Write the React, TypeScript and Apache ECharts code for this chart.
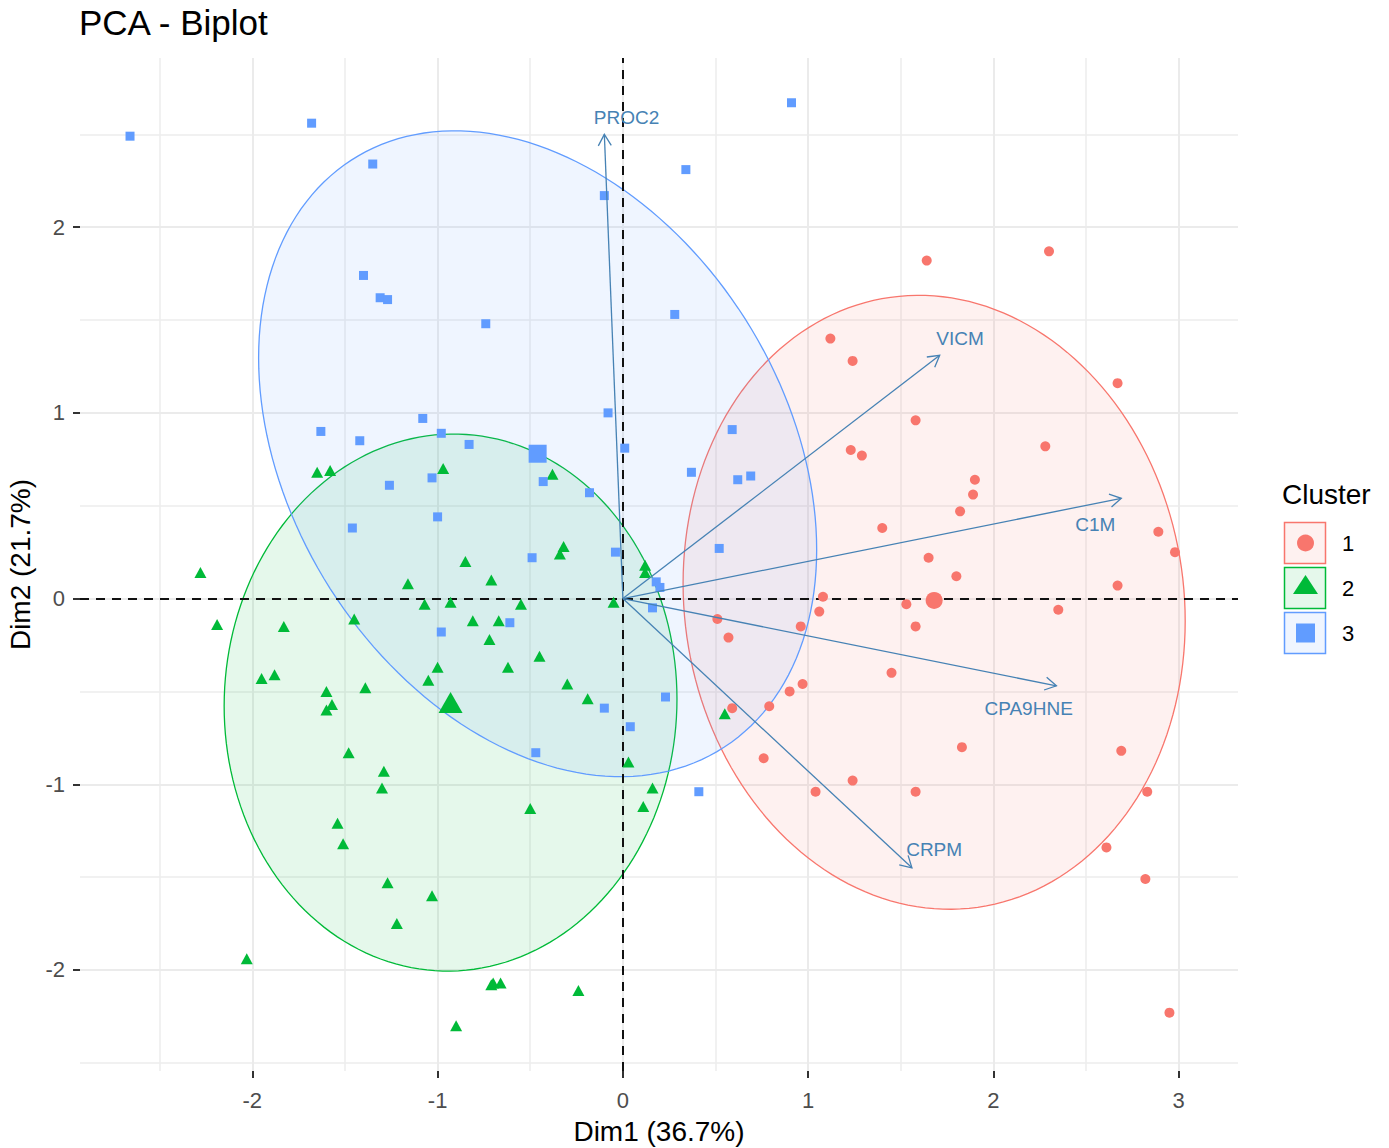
import React, { useEffect, useRef } from 'react';
import * as echarts from 'echarts';

const FONT = '"Liberation Sans", Arial, sans-serif';

const clusterNames = ['1', '2', '3'];
const clusterColors = ['#F8766D', '#00BA38', '#619CFF'];
const clusterFills = ['rgba(248,118,109,0.1)', 'rgba(0,186,56,0.1)', 'rgba(97,156,255,0.1)'];

// Cluster 1 (red circles): [Dim1, Dim2]
const cluster1Points = [
  [2.30, 1.87], [1.64, 1.82], [1.12, 1.40], [1.24, 1.28], [2.67, 1.16], [1.58, 0.96], [2.28, 0.82],
  [1.23, 0.80], [1.29, 0.77], [1.90, 0.64], [1.89, 0.56], [1.82, 0.47], [1.40, 0.38], [2.89, 0.36],
  [2.98, 0.25], [1.65, 0.22], [1.80, 0.12], [2.67, 0.07], [1.08, 0.01], [1.53, -0.03], [2.35, -0.06],
  [1.06, -0.07], [0.51, -0.11], [0.96, -0.15], [1.58, -0.15], [0.57, -0.21], [1.45, -0.40], [0.97, -0.46],
  [0.90, -0.50], [0.59, -0.59], [0.79, -0.58], [1.83, -0.80], [0.76, -0.86], [2.69, -0.82], [1.24, -0.98],
  [1.04, -1.04], [1.58, -1.04], [2.83, -1.04], [2.61, -1.34], [2.82, -1.51], [2.95, -2.23],
];

// Cluster 2 (green triangles)
const cluster2Points = [
  [-2.28, 0.14], [-2.19, -0.14], [-1.83, -0.15], [-1.95, -0.43], [-1.88, -0.41], [-1.65, 0.68], [-1.58, 0.69],
  [-0.97, 0.70], [-0.38, 0.67], [-0.32, 0.28], [-0.34, 0.24], [0.12, 0.18], [0.12, 0.14], [-0.85, 0.20],
  [-0.71, 0.10], [-1.16, 0.08], [-1.07, -0.03], [-0.93, -0.02], [-0.55, -0.03], [-0.05, -0.02], [-0.81, -0.12],
  [-0.67, -0.12], [-0.72, -0.22], [-1.45, -0.11], [-0.45, -0.31], [-1.00, -0.37], [-0.62, -0.37], [-1.05, -0.44],
  [-1.60, -0.50], [-1.39, -0.48], [-1.57, -0.57], [-1.60, -0.60], [-0.30, -0.46], [-0.19, -0.54], [-1.48, -0.83],
  [-1.29, -0.93], [-1.30, -1.02], [0.03, -0.88], [0.16, -1.02], [0.11, -1.12], [-0.50, -1.13], [-1.54, -1.21],
  [-1.51, -1.32], [-1.27, -1.53], [-1.03, -1.60], [-1.22, -1.75], [-0.70, -2.07], [-0.66, -2.07], [-0.71, -2.08],
  [-0.24, -2.11], [-0.90, -2.30], [-2.03, -1.94], [0.55, -0.62],
];

// Cluster 3 (blue squares)
const cluster3Points = [
  [-2.66, 2.49], [-1.68, 2.56], [0.91, 2.67], [-1.35, 2.34], [0.34, 2.31], [-0.10, 2.17], [-1.40, 1.74],
  [-1.31, 1.62], [-1.27, 1.61], [-0.74, 1.48], [0.28, 1.53], [-0.08, 1.00], [-1.08, 0.97], [-1.63, 0.90],
  [-1.42, 0.85], [-0.98, 0.89], [-0.83, 0.83], [0.01, 0.81], [0.59, 0.91], [-0.43, 0.63], [0.37, 0.68],
  [0.62, 0.64], [0.69, 0.66], [-1.26, 0.61], [-1.03, 0.65], [-0.18, 0.57], [-1.46, 0.38], [-1.00, 0.44],
  [0.52, 0.27], [-0.04, 0.25], [-0.49, 0.22], [0.18, 0.09], [0.20, 0.06], [0.16, -0.05], [-0.61, -0.13],
  [-0.98, -0.18], [-0.10, -0.59], [0.23, -0.53], [0.04, -0.69], [-0.47, -0.83], [0.41, -1.04],
];

// Cluster means (large markers)
const centroids = [[1.68, -0.01], [-0.93, -0.56], [-0.46, 0.78]];

// Concentration ellipses: [centerX, centerY, halfWidthX, halfHeightY, correlation]
const ellipseParams = [
  [1.68, -0.02, 1.355, 1.653, -0.061],
  [-0.93, -0.56, 1.222, 1.446, 0.013],
  [-0.46, 0.78, 1.506, 1.739, -0.297],
];

// Variable arrows
const varNames = ['PROC2', 'VICM', 'C1M', 'CPA9HNE', 'CRPM'];
const varX = [-0.10, 1.71, 2.69, 2.34, 1.56];
const varY = [2.50, 1.31, 0.54, -0.47, -1.45];
const varLabelX = [0.02, 1.82, 2.55, 2.19, 1.68];
const varLabelY = [2.59, 1.40, 0.40, -0.59, -1.35];

const xTicks = [-2, -1, 0, 1, 2, 3];
const yTicks = [-2, -1, 0, 1, 2];
const xMinor = [-2.5, -1.5, -0.5, 0.5, 1.5, 2.5];
const yMinor = [-2.5, -1.5, -0.5, 0.5, 1.5, 2.5];

const X_MIN = -2.93, X_MAX = 3.32, Y_MIN = -2.544, Y_MAX = 2.911;

function buildOption() {
  const gridLines: any[] = [];
  xMinor.forEach((v) => gridLines.push({ xAxis: v, lineStyle: { color: '#EDEDED', width: 1.5, type: 'solid' } }));
  yMinor.forEach((v) => gridLines.push({ yAxis: v, lineStyle: { color: '#EDEDED', width: 1.5, type: 'solid' } }));
  xTicks.forEach((v) => gridLines.push({ xAxis: v, lineStyle: { color: '#EBEBEB', width: 2, type: 'solid' } }));
  yTicks.forEach((v) => gridLines.push({ yAxis: v, lineStyle: { color: '#EBEBEB', width: 2, type: 'solid' } }));

  const symbols = ['circle', 'triangle', 'rect'];
  const pointSizes: any[] = [10, [12, 11], 9];
  const centroidSizes: any[] = [17, [24, 21], 18];
  const pointSets = [cluster1Points, cluster2Points, cluster3Points];

  const series: any[] = [
    {
      type: 'scatter', name: 'grid', data: [[0, 0]], symbolSize: 0, silent: true, z: 0,
      itemStyle: { opacity: 0 },
      markLine: { silent: true, z: 0, symbol: 'none', label: { show: false }, animation: false, data: gridLines },
    },
    {
      type: 'custom', name: 'ellipses', z: 1, silent: true, clip: false,
      data: ellipseParams,
      encode: { x: 0, y: 1 },
      renderItem: (params: any, api: any) => {
        const i = params.dataIndex;
        const cx = api.value(0), cy = api.value(1), ex = api.value(2), ey = api.value(3), r = api.value(4);
        const s = Math.sqrt(1 - r * r);
        const pts: number[][] = [];
        for (let k = 0; k < 180; k++) {
          const t = (k / 180) * Math.PI * 2;
          pts.push(api.coord([cx + ex * Math.cos(t), cy + ey * (r * Math.cos(t) + s * Math.sin(t))]));
        }
        return {
          type: 'polygon',
          shape: { points: pts },
          style: { fill: clusterFills[i], stroke: clusterColors[i], lineWidth: 1.3 },
        };
      },
    },
    {
      type: 'scatter', name: 'axes0', data: [[0, 0]], symbolSize: 0, silent: true, z: 2,
      itemStyle: { opacity: 0 },
      markLine: {
        silent: true, z: 2, symbol: 'none', label: { show: false }, animation: false,
        lineStyle: { color: '#111', width: 2, type: [9, 7] },
        data: [{ xAxis: 0 }, { yAxis: 0 }],
      },
    },
  ];

  pointSets.forEach((pts, i) => {
    series.push({
      type: 'scatter', name: clusterNames[i], data: pts, symbol: symbols[i], symbolSize: pointSizes[i],
      itemStyle: { color: clusterColors[i], opacity: 1 }, z: 3, silent: true,
    });
    series.push({
      type: 'scatter', name: clusterNames[i] + 'c', data: [centroids[i]], symbol: symbols[i],
      symbolSize: centroidSizes[i], itemStyle: { color: clusterColors[i], opacity: 1 }, z: 3, silent: true,
    });
  });

  series.push({
    type: 'custom', name: 'vars', z: 4, silent: true, clip: false,
    data: varNames.map((_, i) => [varX[i], varY[i], varLabelX[i], varLabelY[i]]),
    encode: { x: 0, y: 1 },
    renderItem: (params: any, api: any) => {
      const o = api.coord([0, 0]);
      const t = api.coord([api.value(0), api.value(1)]);
      const l = api.coord([api.value(2), api.value(3)]);
      const ang = Math.atan2(t[1] - o[1], t[0] - o[0]);
      const len = 13, a = Math.PI / 6;
      const p1 = [t[0] - len * Math.cos(ang - a), t[1] - len * Math.sin(ang - a)];
      const p2 = [t[0] - len * Math.cos(ang + a), t[1] - len * Math.sin(ang + a)];
      return {
        type: 'group',
        children: [
          { type: 'line', shape: { x1: o[0], y1: o[1], x2: t[0], y2: t[1] }, style: { stroke: '#4682B4', lineWidth: 1.3 } },
          { type: 'polyline', shape: { points: [p1, t, p2] }, style: { stroke: '#4682B4', lineWidth: 1.3, fill: null } },
          {
            type: 'text', x: l[0], y: l[1],
            style: { text: varNames[params.dataIndex], fill: '#4682B4', fontSize: 19, fontFamily: FONT, align: 'center', verticalAlign: 'middle' },
          },
        ],
      };
    },
  });

  const legendGraphics: any[] = [
    { type: 'text', x: 1282, y: 494, z: 100, style: { text: 'Cluster', fontSize: 28, fontFamily: FONT, fill: '#000', align: 'left', verticalAlign: 'middle' } },
  ];
  const boxTops = [522.5, 567.5, 612.5];
  boxTops.forEach((y, i) => {
    legendGraphics.push({
      type: 'rect', z: 100, shape: { x: 1284.5, y, width: 41, height: 41 },
      style: { fill: clusterFills[i], stroke: clusterColors[i], lineWidth: 1.5 },
    });
    legendGraphics.push({
      type: 'text', x: 1342, y: y + 21, z: 100,
      style: { text: clusterNames[i], fontSize: 22, fontFamily: FONT, fill: '#000', align: 'left', verticalAlign: 'middle' },
    });
  });
  legendGraphics.push({ type: 'circle', z: 101, shape: { cx: 1305.5, cy: 543, r: 8.5 }, style: { fill: clusterColors[0] } });
  legendGraphics.push({ type: 'polygon', z: 101, shape: { points: [[1293, 594], [1318, 594], [1305.5, 575]] }, style: { fill: clusterColors[1] } });
  legendGraphics.push({ type: 'rect', z: 101, shape: { x: 1296, y: 623.5, width: 19, height: 19 }, style: { fill: clusterColors[2] } });

  return {
    animation: false,
    backgroundColor: '#FFFFFF',
    title: {
      text: 'PCA - Biplot', left: 79, top: 5, padding: 0,
      textStyle: { fontSize: 35, fontWeight: 'normal', fontFamily: FONT, color: '#000' },
    },
    grid: { left: 80, right: 151, top: 58, bottom: 77, containLabel: false, outerBoundsMode: 'none' },
    xAxis: {
      type: 'value', min: X_MIN, max: X_MAX,
      axisLine: { show: false, onZero: false },
      splitLine: { show: false },
      axisTick: { show: true, customValues: xTicks, length: 7, lineStyle: { color: '#333', width: 2 } },
      axisLabel: { customValues: xTicks, margin: 18, color: '#4D4D4D', fontSize: 22, fontFamily: FONT },
      name: 'Dim1 (36.7%)', nameLocation: 'middle', nameGap: 46,
      nameTextStyle: { fontSize: 28, color: '#000', fontFamily: FONT },
    },
    yAxis: {
      type: 'value', min: Y_MIN, max: Y_MAX,
      axisLine: { show: false, onZero: false },
      splitLine: { show: false },
      axisTick: { show: true, customValues: yTicks, length: 7, lineStyle: { color: '#333', width: 2 } },
      axisLabel: { customValues: yTicks, margin: 15, color: '#4D4D4D', fontSize: 22, fontFamily: FONT },
      name: 'Dim2 (21.7%)', nameLocation: 'middle', nameGap: 41, nameRotate: 90,
      nameTextStyle: { fontSize: 28, color: '#000', fontFamily: FONT },
    },
    graphic: legendGraphics,
    series,
  };
}

export default function App() {
  const ref = useRef<HTMLDivElement>(null);
  useEffect(() => {
    if (!ref.current) return;
    const chart = echarts.init(ref.current, null, { renderer: 'svg' });
    chart.setOption(buildOption() as any);
    return () => chart.dispose();
  }, []);
  return (
    <div
      ref={ref}
      style={{ position: 'absolute', left: 0, top: 0, width: 1389, height: 1148, background: '#fff' }}
    />
  );
}
